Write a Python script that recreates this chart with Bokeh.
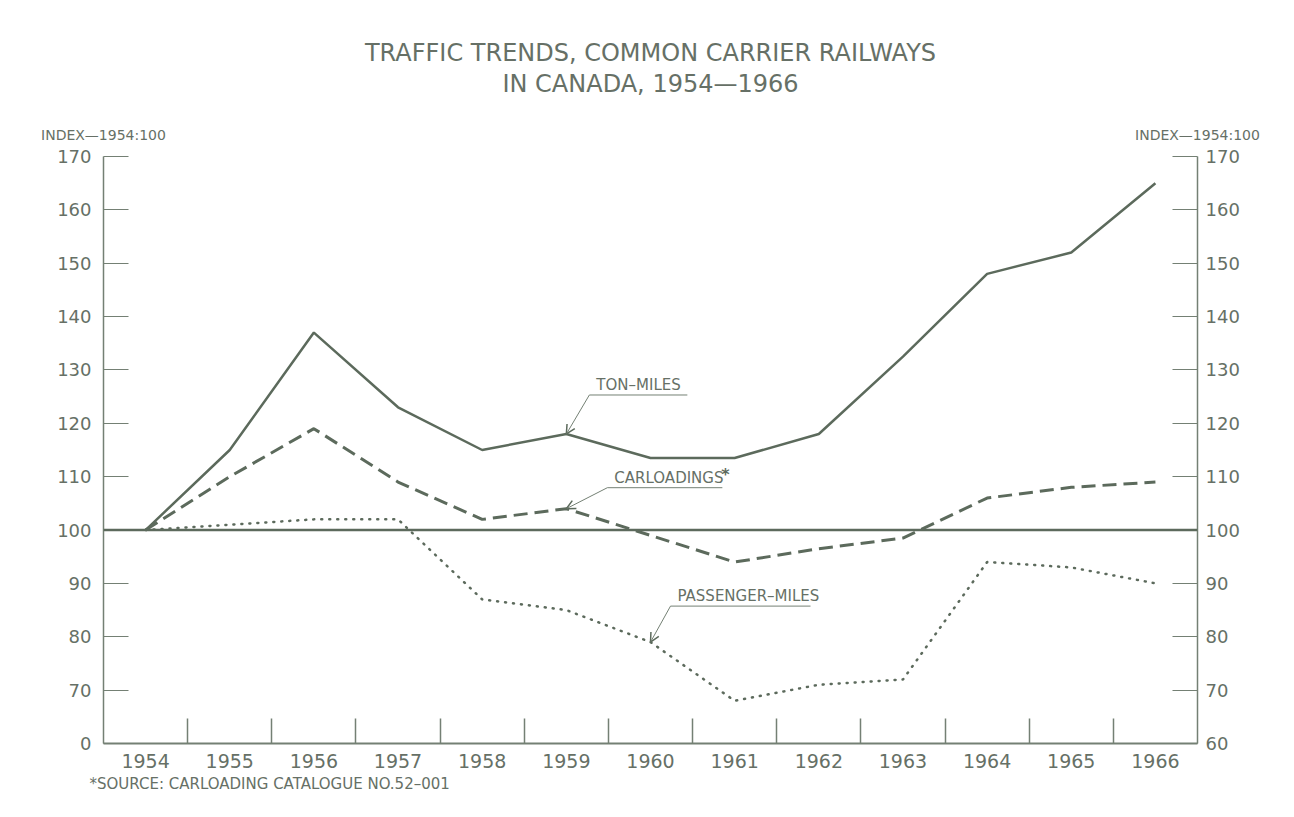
from bokeh.plotting import figure
from bokeh.models import Range1d, LinearAxis, FixedTicker, Span, Label, Arrow, OpenHead, Title
from bokeh.embed import file_html
from bokeh.resources import INLINE

# ---------------- data ----------------
years = [1954, 1955, 1956, 1957, 1958, 1959, 1960, 1961, 1962, 1963, 1964, 1965, 1966]
ton_miles = [100, 115, 137, 123, 115, 118, 113.5, 113.5, 118, 132.5, 148, 152, 165]
carloadings = [100, 110, 119, 109, 102, 104, 99, 94, 96.5, 98.5, 106, 108, 109]
passenger_miles = [100, 101, 102, 102, 87, 85, 79, 68, 71, 72, 94, 93, 90]
base_index = 100
y_ticks = [60, 70, 80, 90, 100, 110, 120, 130, 140, 150, 160, 170]
left_overrides = {60: "0"}

title_lines = ["TRAFFIC TRENDS, COMMON CARRIER RAILWAYS", "IN CANADA, 1954\u20141966"]
index_label = "INDEX\u20141954:100"
source_note = "*SOURCE: CARLOADING CATALOGUE NO.52\u2013001"

# ---------------- style ----------------
LINE = "#5c6a5c"
TEXT = "#667066"
AXIS = "#748074"
FONT = "DejaVu Sans"

W, H = 1294, 817
BL, BR, BT, BB = 103, 97, 156, 74
FW, FH = W - BL - BR, H - BT - BB
x0, x1 = years[0] - 0.5, years[-1] + 0.5
y0, y1 = y_ticks[0], y_ticks[-1]
xc = (x0 + x1) / 2
PXX = FW / (x1 - x0)
PXY = FH / (y1 - y0)

p = figure(width=W, height=H, x_range=Range1d(x0, x1), y_range=Range1d(y0, y1),
           output_backend="svg", toolbar_location=None, title=None,
           min_border_left=BL, min_border_right=BR, min_border_top=BT, min_border_bottom=BB)
p.outline_line_color = None
p.xgrid.visible = False
p.ygrid.visible = False
p.background_fill_color = "white"
p.border_fill_color = "white"

# bottom axis: year labels at centres, ticks between years
xa = p.xaxis[0]
xa.ticker = FixedTicker(ticks=years, minor_ticks=[y + 0.5 for y in years[:-1]])
xa.major_tick_in = 0
xa.major_tick_out = 0
xa.minor_tick_in = 25
xa.minor_tick_out = 0
xa.minor_tick_line_color = AXIS
xa.minor_tick_line_width = 1.5
xa.axis_line_color = AXIS
xa.axis_line_width = 2
xa.major_label_standoff = 10
xa.major_label_text_font = FONT
xa.major_label_text_font_size = "19px"
xa.major_label_text_color = TEXT

# left axis
ya = p.yaxis[0]
ya.ticker = FixedTicker(ticks=y_ticks, minor_ticks=[])
ya.major_label_overrides = left_overrides
ya.major_tick_in = 25
ya.major_tick_out = 0
ya.major_tick_line_color = AXIS
ya.major_tick_line_width = 1.2
ya.minor_tick_line_color = None
ya.axis_line_color = AXIS
ya.axis_line_width = 1.5
ya.major_label_standoff = 12
ya.major_label_text_font = FONT
ya.major_label_text_font_size = "18px"
ya.major_label_text_color = TEXT

# right axis
ra = LinearAxis(ticker=FixedTicker(ticks=y_ticks, minor_ticks=[]))
ra.major_tick_in = 25
ra.major_tick_out = 0
ra.major_tick_line_color = AXIS
ra.major_tick_line_width = 1.2
ra.minor_tick_line_color = None
ra.axis_line_color = AXIS
ra.axis_line_width = 1.5
ra.major_label_standoff = 8
ra.major_label_text_font = FONT
ra.major_label_text_font_size = "18px"
ra.major_label_text_color = TEXT
p.add_layout(ra, "right")


def text_axis(ticks, overrides, size, standoff):
    a = LinearAxis(ticker=FixedTicker(ticks=ticks, minor_ticks=[]), major_label_overrides=overrides)
    a.axis_line_color = None
    a.major_tick_line_color = None
    a.minor_tick_line_color = None
    a.major_tick_in = 0
    a.major_tick_out = 0
    a.major_label_standoff = standoff
    a.major_label_text_font = FONT
    a.major_label_text_font_size = size
    a.major_label_text_color = TEXT
    p.add_layout(a, "above")
    return a


# "INDEX-1954:100" headers above both value axes, then the two title lines (stacked upward)
text_axis([x0, x1], {x0: index_label, x1: index_label}, "14px", 14)
text_axis([xc], {xc: title_lines[1]}, "24px", 26)
text_axis([xc], {xc: title_lines[0]}, "24px", 0)

# base line at index 100
p.add_layout(Span(location=base_index, dimension="width", line_color=LINE, line_width=2.5))

# series
p.line(years, ton_miles, line_color=LINE, line_width=2.5)
p.line(years, carloadings, line_color=LINE, line_width=3, line_dash="14 7")
p.line(years, passenger_miles, line_color=LINE, line_width=2.5, line_dash="1 7", line_cap="round")

# source note
p.add_layout(Title(text=source_note, align="left", offset=-14, standoff=4, text_font=FONT,
                   text_font_size="15px", text_font_style="normal", text_color=TEXT), "below")


# ---------------- callouts ----------------
def callout(year, val, text, dx, dy, ulen):
    """dx, dy, ulen in pixels relative to the data point (dy upward)."""
    sx = year + dx / PXX
    sy = val + dy / PXY
    ex = sx + ulen / PXX
    p.segment(x0=[sx], y0=[sy], x1=[ex], y1=[sy], line_color=AXIS, line_width=1)
    p.add_layout(Arrow(end=OpenHead(size=9, line_color=LINE, line_width=1.5),
                       x_start=sx, y_start=sy, x_end=year, y_end=val,
                       line_color=AXIS, line_width=1))
    lab = Label(x=sx, y=sy, x_offset=7, y_offset=10, text=text, text_align="left",
                text_baseline="middle", text_font=FONT, text_font_size="15px", text_color=TEXT)
    p.add_layout(lab)
    return sx, sy


i59 = years.index(1959)
i60 = years.index(1960)
callout(1959, ton_miles[i59], "TON\u2013MILES", 23, 39, 98)
sx, sy = callout(1959, carloadings[i59], "CARLOADINGS", 41, 21, 115)
p.add_layout(Label(x=sx, y=sy, x_offset=114, y_offset=13, text="*", text_align="left",
                   text_baseline="middle", text_font=FONT, text_font_size="16px",
                   text_font_style="bold", text_color=LINE))
callout(1960, passenger_miles[i60], "PASSENGER\u2013MILES", 20, 36, 140)

open("out.html", "w").write(file_html(p, INLINE))
